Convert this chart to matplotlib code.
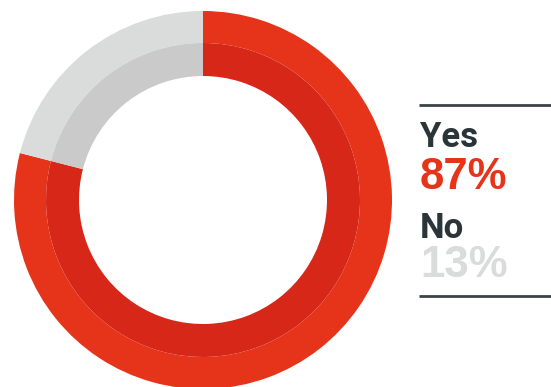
import matplotlib.pyplot as plt

# answer shares as drawn in the ring, and the printed labels
answers = ["Yes", "No"]
ring_shares = [79, 21]
pct_labels = ["87%", "13%"]

outer_colors = ["#e5341a", "#dadcdb"]
inner_colors = ["#d62718", "#cacaca"]
label_colors = ["#e5341a", "#dadcdb"]
dark = "#2b3539"

W, H = 551, 387
fig = plt.figure(figsize=(W / 100, H / 100), dpi=100)
ax = fig.add_axes([0, 0, 1, 1])
ax.set_xlim(0, W)
ax.set_ylim(0, H)
ax.set_aspect("equal")
ax.axis("off")

cx, cy = 203, H - 200
ax.pie(ring_shares, colors=outer_colors, radius=189, center=(cx, cy),
       startangle=90, counterclock=False,
       wedgeprops=dict(width=32, linewidth=0))
ax.pie(ring_shares, colors=inner_colors, radius=157, center=(cx, cy),
       startangle=90, counterclock=False,
       wedgeprops=dict(width=33, linewidth=0))
ax.set_xlim(0, W)
ax.set_ylim(0, H)

# legend block on the right
ax.plot([419, W], [H - 105, H - 105], color="#3a4346", lw=2, solid_capstyle="butt")
ax.plot([419, W], [H - 296, H - 296], color="#3a4346", lw=2, solid_capstyle="butt")

name_base = [147, 238]
pct_base = [189, 277]
for i in range(len(answers)):
    ax.text(420, H - name_base[i], answers[i], fontsize=25, fontweight="bold",
            family="Roboto", color=dark, va="baseline", ha="left")
    ax.text(420, H - pct_base[i], pct_labels[i], fontsize=31.5, fontweight="bold",
            family="Liberation Sans", color=label_colors[i], va="baseline", ha="left")

fig.savefig("out.png", dpi=100)
